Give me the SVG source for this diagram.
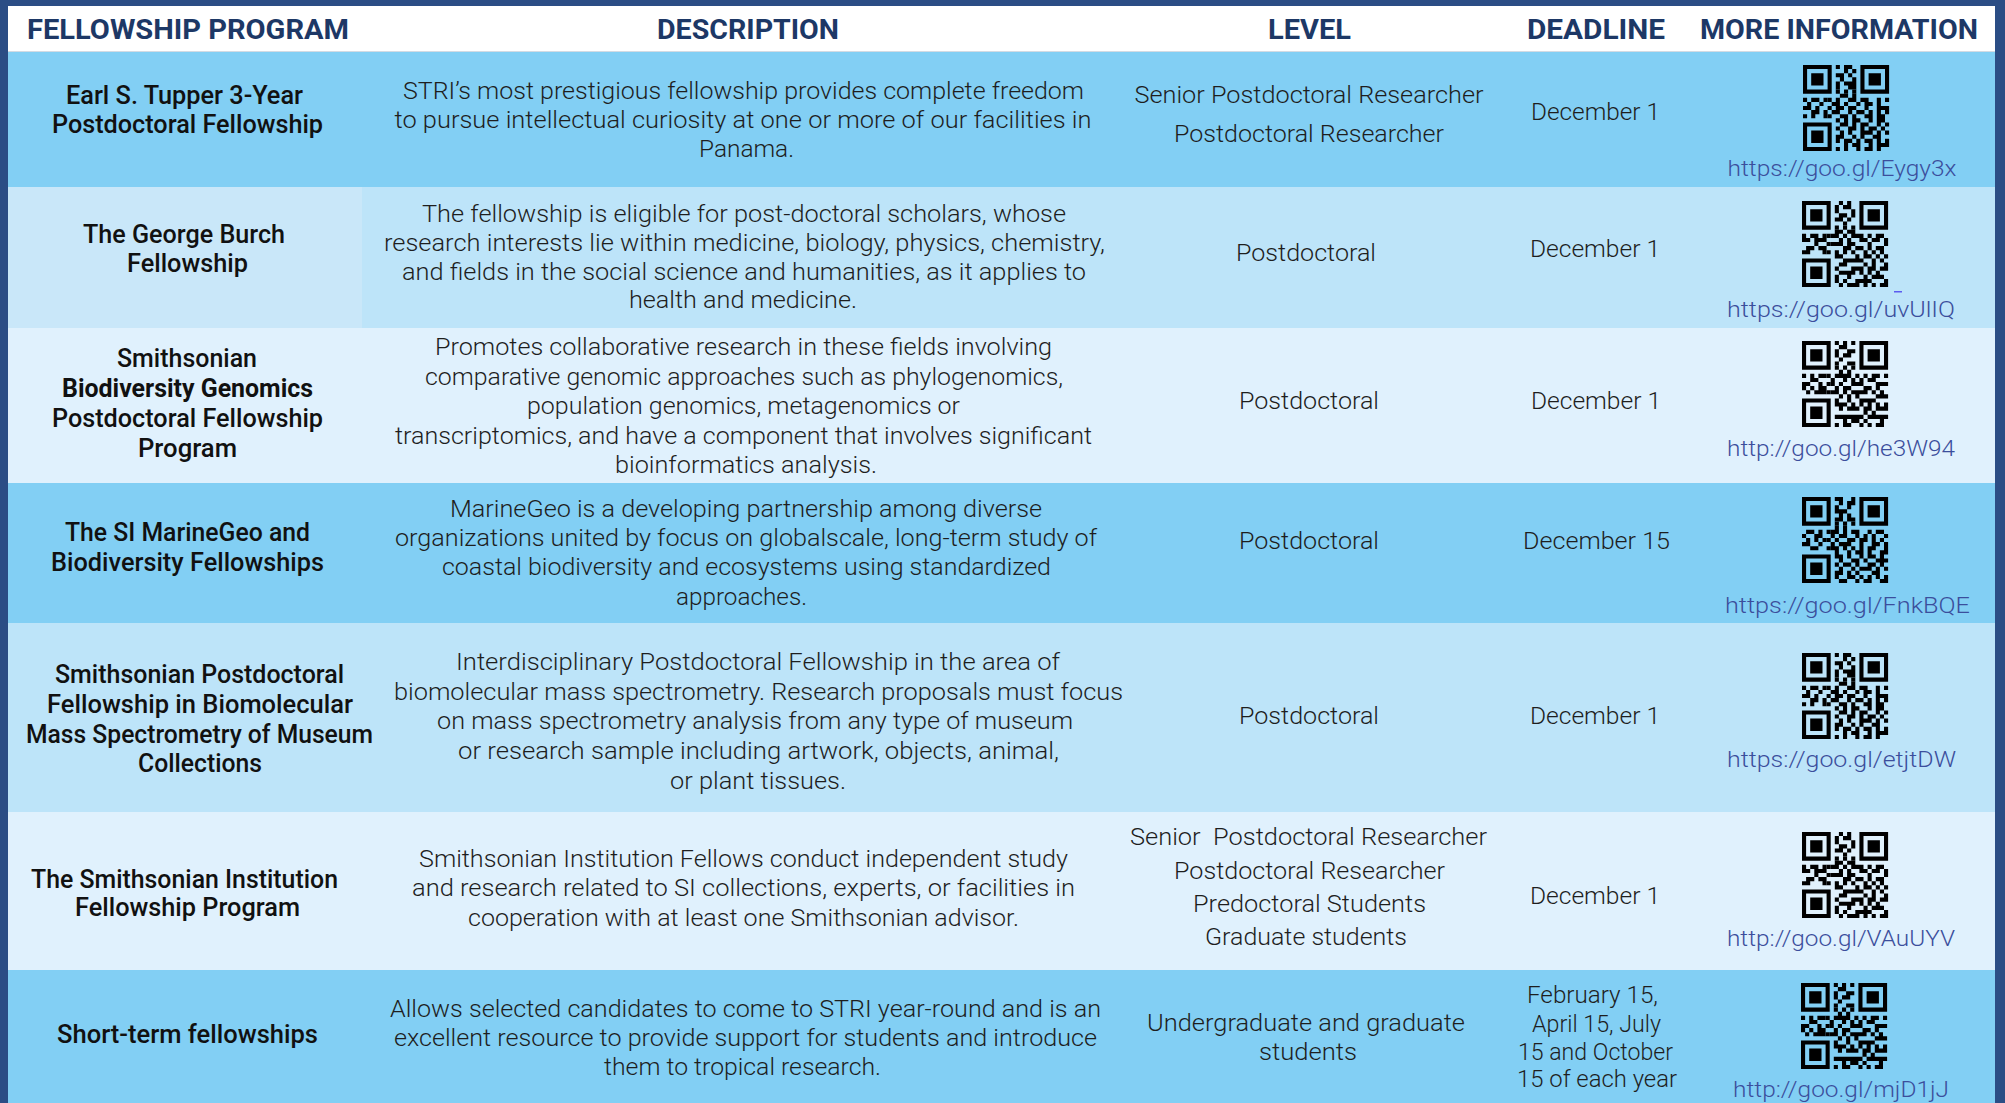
<svg xmlns="http://www.w3.org/2000/svg" width="2005" height="1103" viewBox="0 0 2005 1103">
<style>
.hd{font-family:Roboto,"Liberation Sans",sans-serif;font-weight:700;font-size:28px;fill:#1d3866;text-anchor:middle}
.nm{font-family:Roboto,"Liberation Sans",sans-serif;font-weight:500;font-size:25px;fill:#111111;text-anchor:middle}
.nb{font-weight:700}
.ds{font-family:Roboto,"Liberation Sans",sans-serif;font-weight:300;font-size:24px;fill:#1e1e1e;text-anchor:middle}
.url{font-family:Roboto,"Liberation Sans",sans-serif;font-weight:300;font-size:22px;fill:#3b4e9c;text-anchor:middle}
.rd{fill:#82cff4}.rm{fill:#bde4f9}.rl{fill:#e0f1fd}
.qr{fill:#000000}
</style>
<defs>
<path id="qf" fill-rule="evenodd" d="M0 0h7v7h-7zM1 1h5v5h-5zM2 2h3v3h-3zM14 0h7v7h-7zM15 1h5v5h-5zM16 2h3v3h-3zM0 14h7v7h-7zM1 15h5v5h-5zM2 16h3v3h-3zM8 6h1v1h-1zM10 6h1v1h-1zM12 6h1v1h-1zM6 8h1v1h-1zM6 10h1v1h-1zM6 12h1v1h-1z"/>
<path id="qa" d="M8 0h1v1h-1zM10 0h2v1h-2zM10 1h1v1h-1zM12 1h1v1h-1zM8 2h2v1h-2zM11 2h1v1h-1zM9 3h1v1h-1zM12 3h1v1h-1zM8 4h1v1h-1zM10 4h3v1h-3zM8 5h1v1h-1zM11 5h2v1h-2zM9 7h2v1h-2zM12 7h1v1h-1zM0 8h1v1h-1zM2 8h2v1h-2zM5 8h1v1h-1zM8 8h1v1h-1zM11 8h2v1h-2zM14 8h2v1h-2zM18 8h1v1h-1zM20 8h1v1h-1zM1 9h1v1h-1zM4 9h1v1h-1zM7 9h2v1h-2zM10 9h1v1h-1zM13 9h1v1h-1zM15 9h2v1h-2zM18 9h1v1h-1zM0 10h2v1h-2zM3 10h1v1h-1zM8 10h2v1h-2zM11 10h2v1h-2zM15 10h1v1h-1zM18 10h3v1h-3zM2 11h2v1h-2zM5 11h1v1h-1zM7 11h2v1h-2zM11 11h1v1h-1zM13 11h2v1h-2zM16 11h1v1h-1zM18 11h1v1h-1zM20 11h1v1h-1zM0 12h1v1h-1zM2 12h1v1h-1zM5 12h1v1h-1zM9 12h2v1h-2zM12 12h1v1h-1zM15 12h2v1h-2zM18 12h2v1h-2zM8 13h1v1h-1zM10 13h1v1h-1zM12 13h2v1h-2zM16 13h1v1h-1zM18 13h2v1h-2zM9 14h2v1h-2zM12 14h1v1h-1zM14 14h2v1h-2zM18 14h1v1h-1zM20 14h1v1h-1zM8 15h1v1h-1zM11 15h2v1h-2zM14 15h1v1h-1zM16 15h2v1h-2zM19 15h1v1h-1zM9 16h1v1h-1zM11 16h1v1h-1zM14 16h3v1h-3zM18 16h1v1h-1zM20 16h1v1h-1zM8 17h2v1h-2zM12 17h1v1h-1zM14 17h1v1h-1zM17 17h2v1h-2zM8 18h1v1h-1zM10 18h2v1h-2zM13 18h1v1h-1zM15 18h2v1h-2zM18 18h1v1h-1zM20 18h1v1h-1zM10 19h1v1h-1zM12 19h2v1h-2zM16 19h1v1h-1zM18 19h3v1h-3zM8 20h1v1h-1zM10 20h1v1h-1zM13 20h1v1h-1zM15 20h2v1h-2zM18 20h1v1h-1z"/>
<path id="qb" d="M8 0h2v1h-2zM12 0h1v1h-1zM9 1h1v1h-1zM11 1h2v1h-2zM8 2h1v1h-1zM11 2h1v1h-1zM8 3h3v1h-3zM9 4h1v1h-1zM11 4h1v1h-1zM8 5h2v1h-2zM11 5h2v1h-2zM8 7h1v1h-1zM10 7h1v1h-1zM1 8h2v1h-2zM4 8h1v1h-1zM7 8h2v1h-2zM10 8h1v1h-1zM12 8h2v1h-2zM16 8h1v1h-1zM18 8h2v1h-2zM0 9h1v1h-1zM3 9h2v1h-2zM7 9h1v1h-1zM9 9h2v1h-2zM13 9h1v1h-1zM15 9h1v1h-1zM17 9h1v1h-1zM20 9h1v1h-1zM1 10h1v1h-1zM3 10h1v1h-1zM5 10h1v1h-1zM8 10h1v1h-1zM11 10h2v1h-2zM14 10h2v1h-2zM17 10h1v1h-1zM19 10h1v1h-1zM0 11h2v1h-2zM4 11h1v1h-1zM7 11h1v1h-1zM9 11h3v1h-3zM14 11h1v1h-1zM17 11h2v1h-2zM20 11h1v1h-1zM2 12h2v1h-2zM7 12h2v1h-2zM10 12h1v1h-1zM12 12h1v1h-1zM14 12h1v1h-1zM16 12h2v1h-2zM20 12h1v1h-1zM8 13h1v1h-1zM11 13h1v1h-1zM13 13h2v1h-2zM16 13h1v1h-1zM19 13h2v1h-2zM8 14h2v1h-2zM11 14h1v1h-1zM14 14h1v1h-1zM16 14h2v1h-2zM19 14h1v1h-1zM9 15h1v1h-1zM12 15h2v1h-2zM15 15h1v1h-1zM18 15h3v1h-3zM8 16h1v1h-1zM10 16h2v1h-2zM13 16h1v1h-1zM16 16h2v1h-2zM19 16h1v1h-1zM9 17h1v1h-1zM12 17h1v1h-1zM14 17h3v1h-3zM18 17h1v1h-1zM20 17h1v1h-1zM8 18h2v1h-2zM11 18h1v1h-1zM13 18h1v1h-1zM17 18h2v1h-2zM8 19h1v1h-1zM11 19h2v1h-2zM14 19h1v1h-1zM16 19h1v1h-1zM18 19h1v1h-1zM20 19h1v1h-1zM9 20h2v1h-2zM13 20h1v1h-1zM15 20h2v1h-2zM19 20h2v1h-2z"/>
</defs>

<rect x="0" y="0" width="2005" height="1103" fill="#2b4d85"/>

<g id="header">
<rect x="8" y="6" width="1987" height="45" fill="#ffffff"/>
<rect x="8" y="51" width="1987" height="1" fill="#d3dbe3"/>
<text class="hd" x="188" y="39" textLength="322" lengthAdjust="spacingAndGlyphs">FELLOWSHIP PROGRAM</text>
<text class="hd" x="748" y="39" textLength="182" lengthAdjust="spacingAndGlyphs">DESCRIPTION</text>
<text class="hd" x="1309.5" y="39" textLength="83" lengthAdjust="spacingAndGlyphs">LEVEL</text>
<text class="hd" x="1596" y="39" textLength="138" lengthAdjust="spacingAndGlyphs">DEADLINE</text>
<text class="hd" x="1839" y="39" textLength="278" lengthAdjust="spacingAndGlyphs">MORE INFORMATION</text>
</g>

<g id="row-tupper">
<rect class="rd" x="8" y="52" width="1987" height="135"/>
<text class="nm" x="184.5" y="103.5" textLength="237" lengthAdjust="spacingAndGlyphs">Earl S. Tupper 3-Year</text>
<text class="nm" x="187.5" y="133.3" textLength="271" lengthAdjust="spacingAndGlyphs">Postdoctoral Fellowship</text>
<text class="ds" x="743.5" y="99" textLength="681" lengthAdjust="spacingAndGlyphs">STRI’s most prestigious fellowship provides complete freedom</text>
<text class="ds" x="743" y="128.3" textLength="697" lengthAdjust="spacingAndGlyphs">to pursue intellectual curiosity at one or more of our facilities in</text>
<text class="ds" x="746.5" y="156.7" textLength="95" lengthAdjust="spacingAndGlyphs">Panama.</text>
<text class="ds" x="1309" y="103" textLength="349" lengthAdjust="spacingAndGlyphs">Senior Postdoctoral Researcher</text>
<text class="ds" x="1309" y="141.5" textLength="270" lengthAdjust="spacingAndGlyphs">Postdoctoral Researcher</text>
<text class="ds" x="1595.5" y="120" textLength="129" lengthAdjust="spacingAndGlyphs">December 1</text>
<g class="qr" transform="translate(1803,65) scale(4.1)"><use href="#qf"/><use href="#qa"/></g>
<text class="url" x="1842" y="175.5" textLength="229" lengthAdjust="spacingAndGlyphs">https://goo.gl/Eygy3x</text>
</g>

<g id="row-burch">
<rect class="rm" x="8" y="187" width="1987" height="141"/>
<rect x="8" y="187" width="354" height="141" fill="#c9e7f9"/>
<text class="nm" x="184" y="243.3" textLength="202" lengthAdjust="spacingAndGlyphs">The George Burch</text>
<text class="nm" x="187.5" y="271.7" textLength="121" lengthAdjust="spacingAndGlyphs">Fellowship</text>
<text class="ds" x="744" y="221.7" textLength="644" lengthAdjust="spacingAndGlyphs">The fellowship is eligible for post-doctoral scholars, whose</text>
<text class="ds" x="744.5" y="251" textLength="721" lengthAdjust="spacingAndGlyphs">research interests lie within medicine, biology, physics, chemistry,</text>
<text class="ds" x="744" y="280" textLength="684" lengthAdjust="spacingAndGlyphs">and fields in the social science and humanities, as it applies to</text>
<text class="ds" x="743" y="308" textLength="228" lengthAdjust="spacingAndGlyphs">health and medicine.</text>
<text class="ds" x="1306" y="261" textLength="140" lengthAdjust="spacingAndGlyphs">Postdoctoral</text>
<text class="ds" x="1595" y="257" textLength="130" lengthAdjust="spacingAndGlyphs">December 1</text>
<g class="qr" transform="translate(1802,201) scale(4.1)"><use href="#qf"/><use href="#qb" transform="matrix(0 1 1 0 0 0)"/></g>
<rect x="1894" y="291" width="8" height="1.5" fill="#5b5bf0"/>
<text class="url" x="1841" y="317" textLength="228" lengthAdjust="spacingAndGlyphs">https://goo.gl/uvUlIQ</text>
</g>

<g id="row-genomics">
<rect class="rl" x="8" y="328" width="1987" height="155"/>
<text class="nm" x="187" y="366.7" textLength="140" lengthAdjust="spacingAndGlyphs">Smithsonian</text>
<text class="nm nb" x="187.5" y="396.7" textLength="251" lengthAdjust="spacingAndGlyphs">Biodiversity Genomics</text>
<text class="nm" x="187.5" y="426.7" textLength="271" lengthAdjust="spacingAndGlyphs">Postdoctoral Fellowship</text>
<text class="nm" x="187.5" y="456.7" textLength="99" lengthAdjust="spacingAndGlyphs">Program</text>
<text class="ds" x="743.5" y="355" textLength="617" lengthAdjust="spacingAndGlyphs">Promotes collaborative research in these fields involving</text>
<text class="ds" x="744" y="385" textLength="638" lengthAdjust="spacingAndGlyphs">comparative genomic approaches such as phylogenomics,</text>
<text class="ds" x="743.5" y="414" textLength="433" lengthAdjust="spacingAndGlyphs">population genomics, metagenomics or</text>
<text class="ds" x="743.5" y="444" textLength="697" lengthAdjust="spacingAndGlyphs">transcriptomics, and have a component that involves significant</text>
<text class="ds" x="746" y="473" textLength="262" lengthAdjust="spacingAndGlyphs">bioinformatics analysis.</text>
<text class="ds" x="1309" y="409" textLength="140" lengthAdjust="spacingAndGlyphs">Postdoctoral</text>
<text class="ds" x="1596" y="409" textLength="130" lengthAdjust="spacingAndGlyphs">December 1</text>
<g class="qr" transform="translate(1802,341) scale(4.1)"><use href="#qf"/><use href="#qa" transform="matrix(0 1 1 0 0 0)"/></g>
<text class="url" x="1841" y="456" textLength="228" lengthAdjust="spacingAndGlyphs">http://goo.gl/he3W94</text>
</g>

<g id="row-marinegeo">
<rect class="rd" x="8" y="483" width="1987" height="140"/>
<text class="nm" x="187.5" y="541" textLength="245" lengthAdjust="spacingAndGlyphs">The SI MarineGeo and</text>
<text class="nm" x="187.5" y="570.7" textLength="273" lengthAdjust="spacingAndGlyphs">Biodiversity Fellowships</text>
<text class="ds" x="746" y="516.6" textLength="592" lengthAdjust="spacingAndGlyphs">MarineGeo is a developing partnership among diverse</text>
<text class="ds" x="746" y="546" textLength="702" lengthAdjust="spacingAndGlyphs">organizations united by focus on globalscale, long-term study of</text>
<text class="ds" x="746.5" y="575" textLength="609" lengthAdjust="spacingAndGlyphs">coastal biodiversity and ecosystems using standardized</text>
<text class="ds" x="741.5" y="605" textLength="131" lengthAdjust="spacingAndGlyphs">approaches.</text>
<text class="ds" x="1309" y="548.6" textLength="140" lengthAdjust="spacingAndGlyphs">Postdoctoral</text>
<text class="ds" x="1596.5" y="548.6" textLength="147" lengthAdjust="spacingAndGlyphs">December 15</text>
<g class="qr" transform="translate(1802,497) scale(4.1)"><use href="#qf"/><use href="#qb"/></g>
<text class="url" x="1847.5" y="612.5" textLength="245" lengthAdjust="spacingAndGlyphs">https://goo.gl/FnkBQE</text>
</g>

<g id="row-biomolecular">
<rect class="rm" x="8" y="623" width="1987" height="189"/>
<text class="nm" x="199.5" y="682.7" textLength="289" lengthAdjust="spacingAndGlyphs">Smithsonian Postdoctoral</text>
<text class="nm" x="200" y="712.7" textLength="306" lengthAdjust="spacingAndGlyphs">Fellowship in Biomolecular</text>
<text class="nm" x="199.5" y="742.7" textLength="347" lengthAdjust="spacingAndGlyphs">Mass Spectrometry of Museum</text>
<text class="nm" x="200" y="772.3" textLength="124" lengthAdjust="spacingAndGlyphs">Collections</text>
<text class="ds" x="758" y="670" textLength="604" lengthAdjust="spacingAndGlyphs">Interdisciplinary Postdoctoral Fellowship in the area of</text>
<text class="ds" x="758.5" y="699.5" textLength="729" lengthAdjust="spacingAndGlyphs">biomolecular mass spectrometry. Research proposals must focus</text>
<text class="ds" x="755" y="729" textLength="636" lengthAdjust="spacingAndGlyphs">on mass spectrometry analysis from any type of museum</text>
<text class="ds" x="758.5" y="759" textLength="601" lengthAdjust="spacingAndGlyphs">or research sample including artwork, objects, animal,</text>
<text class="ds" x="758" y="788.5" textLength="176" lengthAdjust="spacingAndGlyphs">or plant tissues.</text>
<text class="ds" x="1309" y="724" textLength="140" lengthAdjust="spacingAndGlyphs">Postdoctoral</text>
<text class="ds" x="1595" y="724" textLength="130" lengthAdjust="spacingAndGlyphs">December 1</text>
<g class="qr" transform="translate(1802,653) scale(4.1)"><use href="#qf"/><use href="#qa"/></g>
<text class="url" x="1841.5" y="767" textLength="229" lengthAdjust="spacingAndGlyphs">https://goo.gl/etjtDW</text>
</g>

<g id="row-institution">
<rect class="rl" x="8" y="812" width="1987" height="158"/>
<text class="nm" x="184.5" y="887.7" textLength="307" lengthAdjust="spacingAndGlyphs">The Smithsonian Institution</text>
<text class="nm" x="187.5" y="916" textLength="225" lengthAdjust="spacingAndGlyphs">Fellowship Program</text>
<text class="ds" x="743.5" y="867" textLength="649" lengthAdjust="spacingAndGlyphs">Smithsonian Institution Fellows conduct independent study</text>
<text class="ds" x="743.5" y="896" textLength="663" lengthAdjust="spacingAndGlyphs">and research related to SI collections, experts, or facilities in</text>
<text class="ds" x="743.5" y="926" textLength="551" lengthAdjust="spacingAndGlyphs">cooperation with at least one Smithsonian advisor.</text>
<text class="ds" x="1308.5" y="845" textLength="357" lengthAdjust="spacingAndGlyphs" xml:space="preserve">Senior  Postdoctoral Researcher</text>
<text class="ds" x="1309.5" y="878.5" textLength="271" lengthAdjust="spacingAndGlyphs">Postdoctoral Researcher</text>
<text class="ds" x="1309.5" y="911.7" textLength="233" lengthAdjust="spacingAndGlyphs">Predoctoral Students</text>
<text class="ds" x="1306" y="945" textLength="202" lengthAdjust="spacingAndGlyphs">Graduate students</text>
<text class="ds" x="1595" y="904" textLength="130" lengthAdjust="spacingAndGlyphs">December 1</text>
<g class="qr" transform="translate(1802,832) scale(4.1)"><use href="#qf"/><use href="#qb" transform="matrix(0 1 1 0 0 0)"/></g>
<text class="url" x="1841" y="946" textLength="228" lengthAdjust="spacingAndGlyphs">http://goo.gl/VAuUYV</text>
</g>

<g id="row-shortterm">
<rect class="rd" x="8" y="970" width="1987" height="133"/>
<text class="nm" x="187.5" y="1043.3" textLength="261" lengthAdjust="spacingAndGlyphs">Short-term fellowships</text>
<text class="ds" x="745.5" y="1016.6" textLength="711" lengthAdjust="spacingAndGlyphs">Allows selected candidates to come to STRI year-round and is an</text>
<text class="ds" x="745.5" y="1046" textLength="703" lengthAdjust="spacingAndGlyphs">excellent resource to provide support for students and introduce</text>
<text class="ds" x="742.5" y="1075" textLength="277" lengthAdjust="spacingAndGlyphs">them to tropical research.</text>
<text class="ds" x="1306" y="1030.6" textLength="318" lengthAdjust="spacingAndGlyphs">Undergraduate and graduate</text>
<text class="ds" x="1308" y="1060" textLength="98" lengthAdjust="spacingAndGlyphs">students</text>
<text class="ds" x="1592.5" y="1003.3" textLength="131" lengthAdjust="spacingAndGlyphs">February 15,</text>
<text class="ds" x="1596.5" y="1031.7" textLength="129" lengthAdjust="spacingAndGlyphs">April 15, July</text>
<text class="ds" x="1595.5" y="1060" textLength="155" lengthAdjust="spacingAndGlyphs">15 and October</text>
<text class="ds" x="1597" y="1086.7" textLength="160" lengthAdjust="spacingAndGlyphs">15 of each year</text>
<g class="qr" transform="translate(1801,983) scale(4.1)"><use href="#qf"/><use href="#qa" transform="matrix(0 1 1 0 0 0)"/></g>
<text class="url" x="1841" y="1097" textLength="216" lengthAdjust="spacingAndGlyphs">http://goo.gl/mjD1jJ</text>
</g>
</svg>
